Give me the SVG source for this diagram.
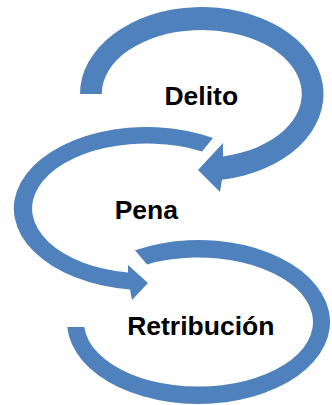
<svg xmlns="http://www.w3.org/2000/svg" width="332" height="405" viewBox="0 0 332 405">
  <style>
    .arrow { fill: #4f81bd; stroke: none; }
    .label { font-family: "Liberation Sans", Arial, sans-serif; font-weight: bold; font-size: 26.5px; fill: #000000; text-anchor: middle; }
  </style>
  <rect x="0" y="0" width="332" height="405" fill="#ffffff"/>
  <g id="node-delito">
    <path class="arrow" d="M80,94 A121.75,87 0 1 1 222,179.8 L220,192 L198,170 L223,143 L223,156.5 A100,64 0 1 0 101.75,94 Z"/>
    <text class="label" x="201.3" y="105">Delito</text>
  </g>
  <g id="node-pena">
    <path class="arrow" d="M213,138 A132.7,81.5 0 1 0 130,289.4 L132,300 L148,283 L128,265 L128,272.6 A114.7,65 0 1 1 202,151.5 Z"/>
    <text class="label" x="146.3" y="218.5">Pena</text>
  </g>
  <g id="node-retribucion">
    <path class="arrow" d="M135,250.2 A131.5,82 0 1 1 67.25,327 L84.3,327 A114.5,64.5 0 1 0 147,264.4 Z"/>
    <text class="label" x="200.8" y="335">Retribución</text>
  </g>
  <g id="connectors"></g>
</svg>
